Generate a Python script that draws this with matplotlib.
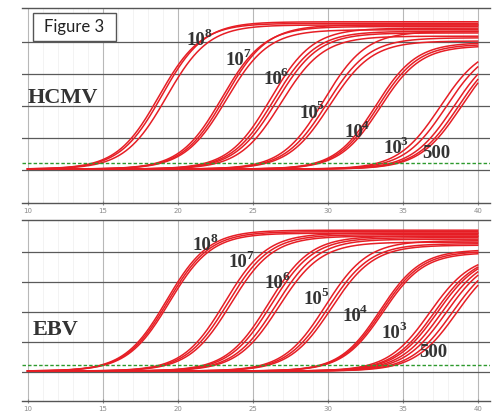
import numpy as np
import matplotlib
matplotlib.use("Agg")
import matplotlib.pyplot as plt
from matplotlib.patches import Rectangle

# Amplification curves: per dilution group, the cycle at
# half-height (midpoint) and the plateau of each replicate curve.
label_base = ['10', '10', '10', '10', '10', '10', '500']
label_exp = ['8', '7', '6', '5', '4', '3', '']
x_ticks = [10, 15, 20, 25, 30, 35, 40]

hcmv_mid = [[18.75, 18.95, 19.25],
            [22.95, 23.15, 23.25],
            [26.2, 26.4, 26.6, 26.9],
            [29.75, 29.95, 30.15],
            [33.2, 33.35, 33.5],
            [37.5, 37.9],
            [38.4, 38.7, 38.9]]
hcmv_top = [[4.55, 4.6, 4.5],
            [4.45, 4.5, 4.35],
            [4.4, 4.3, 4.25, 4.15],
            [4.3, 4.1, 4.0],
            [3.95, 3.9, 3.85],
            [3.9, 3.9],
            [3.9, 3.9, 3.9]]

ebv_mid = [[19.25, 19.35, 19.45],
           [23.15, 23.35, 23.55],
           [26.05, 26.25, 26.55, 26.75],
           [29.85, 30.05, 30.25],
           [33.5, 33.6, 33.7],
           [36.8, 37.1, 37.3],
           [37.6, 37.9, 38.3, 38.6]]
ebv_top = [[4.7, 4.65, 4.6],
           [4.6, 4.55, 4.5],
           [4.5, 4.45, 4.4, 4.3],
           [4.35, 4.25, 4.2],
           [4.05, 4.0, 3.95],
           [3.9, 3.9, 3.9],
           [3.9, 3.9, 3.9, 3.9]]

# spread (cycles) of the rise of each group
group_slope = [1.4, 1.4, 1.4, 1.4, 1.35, 1.4, 1.4]
threshold = 0.22

# label anchor positions (cycle, signal) for each panel
hcmv_lab_x = [20.6, 23.2, 25.7, 28.1, 31.1, 33.7, 36.3]
hcmv_lab_y = [3.9, 3.28, 2.69, 1.63, 1.03, 0.53, 0.37]
ebv_lab_x = [21.0, 23.4, 25.8, 28.4, 31.0, 33.6, 36.1]
ebv_lab_y = [4.07, 3.5, 2.8, 2.27, 1.7, 1.13, 0.5]

W, H = 496, 413
fig = plt.figure(figsize=(W / 100, H / 100), dpi=100)

serif = dict(family='Liberation Serif', weight='bold', color='#333333')
red = '#e61e25'


def panel(rect, ylim, mids, tops, lab_x, lab_y, name, name_xy):
    ax = fig.add_axes(rect)
    ax.set_xlim(9.62, 40.82)
    ax.set_ylim(*ylim)
    # light minor and major vertical grid lines
    for xv in range(10, 41):
        ax.axvline(xv, color='#f1f1f1', lw=0.6, zorder=0)
    for xv in x_ticks:
        ax.axvline(xv, color='#b8b8b8', lw=0.8, zorder=0.5)
    for yv in range(0, 5):
        ax.axhline(yv, color='#5a5a5a', lw=0.9, zorder=1)
    ax.axhline(threshold, color='#2e9a2e', lw=1.0, ls=(0, (2.5, 1.5)), zorder=3)

    xs = np.linspace(10, 40, 400)
    for g, (ms, ps) in enumerate(zip(mids, tops)):
        s = group_slope[g]
        for m, p in zip(ms, ps):
            ys = 0.03 + p / (1 + np.exp(-(xs - m) / s))
            ax.plot(xs, ys, color=red, lw=1.1, zorder=2)

    for b, e, lx, ly in zip(label_base, label_exp, lab_x, lab_y):
        ax.text(lx, ly, b, fontsize=13.5, ha='left', va='baseline', zorder=4, **serif)
        if e:
            ax.annotate(e, xy=(lx, ly), xytext=(12.6, 6), textcoords='offset points',
                        fontsize=9.5, ha='left', va='baseline', zorder=4, **serif)
    ax.text(name_xy[0], name_xy[1], name, fontsize=16, ha='left', va='baseline', zorder=4, **serif)

    ax.set_xticks(x_ticks)
    ax.set_yticks([])
    ax.tick_params(axis='x', labelsize=5, colors='#8a8a8a', length=3, direction='inout', pad=2)
    for side in ('left', 'right'):
        ax.spines[side].set_visible(False)
    for side in ('top', 'bottom'):
        ax.spines[side].set_color('#555555')
        ax.spines[side].set_linewidth(1.0)
    return ax


panel([22 / W, 1 - 203 / H, 468 / W, 195 / H], (-1.03, 5.06),
      hcmv_mid, hcmv_top, hcmv_lab_x, hcmv_lab_y, 'HCMV', (10.0, 2.1))
panel([22 / W, 1 - 401 / H, 468 / W, 181 / H], (-0.97, 5.07),
      ebv_mid, ebv_top, ebv_lab_x, ebv_lab_y, 'EBV', (10.35, 1.23))

# "Figure 3" caption box
fig.patches.append(Rectangle((33 / W, 1 - 41 / H), 83 / W, 28 / H,
                             transform=fig.transFigure, facecolor='white',
                             edgecolor='#555555', lw=1.0, zorder=5))
fig.text(74.5 / W, 1 - 27 / H, 'Figure 3', family='Lato', fontsize=12,
         ha='center', va='center', color='#222222', zorder=6)

fig.savefig('out.png', dpi=100)
